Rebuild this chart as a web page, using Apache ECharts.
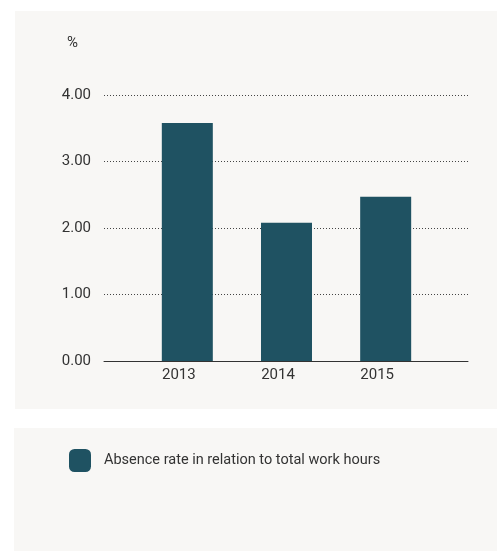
<!DOCTYPE html>
<html>
<head>
<meta charset="utf-8">
<script src="https://cdn.jsdelivr.net/npm/echarts@6/dist/echarts.min.js"></script>
<style>
html,body{margin:0;padding:0;background:#ffffff;}
#chart{width:497px;height:551px;}
</style>
</head>
<body>
<div id="chart"></div>
<script>
var years = [2013, 2014, 2015];
var absenceRate = [3.58, 2.08, 2.47];
var yTicks = [0, 1, 2, 3, 4];
var seriesName = 'Absence rate in relation to total work hours';
var unitLabel = '%';

var chart = echarts.init(document.getElementById('chart'), null, {renderer: 'canvas'});
var FONT = 'Roboto';
var TXT = '#333333';
var BAR = '#1f5262';

chart.setOption({
  backgroundColor: '#ffffff',
  animation: false,
  textStyle: {fontFamily: FONT},
  graphic: [
    {type: 'rect', z: -10, shape: {x: 15, y: 11, width: 482, height: 398}, style: {fill: '#f8f7f5'}},
    {type: 'rect', z: -10, shape: {x: 14, y: 428, width: 483, height: 123}, style: {fill: '#f8f7f5'}}
  ],
  legend: {
    left: 64, top: 444,
    itemWidth: 22, itemHeight: 23,
    icon: 'roundRect',
    textStyle: {fontFamily: FONT, fontSize: 14.5, color: TXT, padding: [0, 0, 0, 8]},
    data: [seriesName]
  },
  grid: {left: 104, right: 29, top: 95, bottom: 190, containLabel: false},
  xAxis: {
    type: 'value',
    min: 2012.16, max: 2015.83,
    axisLine: {show: true, lineStyle: {color: '#333333', width: 1}},
    axisTick: {show: false},
    splitLine: {show: false},
    axisLabel: {
      customValues: years,
      fontFamily: FONT, fontSize: 15, color: TXT,
      margin: 7,
      align: 'center',
      padding: [0, 17, 0, 0],
      formatter: function (v) { return String(Math.round(v)); }
    }
  },
  yAxis: {
    type: 'value',
    min: yTicks[0], max: yTicks[yTicks.length - 1], interval: 1,
    name: unitLabel,
    nameLocation: 'end',
    nameGap: 44,
    nameTextStyle: {fontFamily: FONT, fontSize: 15, color: TXT, align: 'right', padding: [0, 26, 0, 0]},
    axisLine: {show: false},
    axisTick: {show: false},
    axisLabel: {
      fontFamily: FONT, fontSize: 15, color: TXT, margin: 13,
      formatter: function (v) { return v.toFixed(2); }
    },
    splitLine: {show: true, lineStyle: {color: '#444444', width: 1, type: [1, 2]}}
  },
  series: [{
    name: seriesName,
    type: 'bar',
    barWidth: 51,
    itemStyle: {color: BAR},
    data: years.map(function (y, i) { return [y, absenceRate[i]]; })
  }]
});
</script>
</body>
</html>
